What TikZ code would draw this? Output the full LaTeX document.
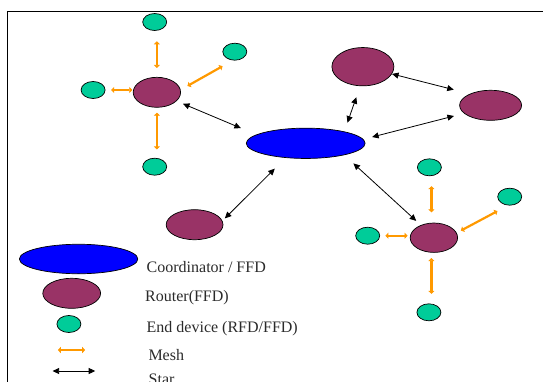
\documentclass[tikz,border=0pt]{standalone}
\usepackage{fontspec}
\setmainfont{Liberation Serif}
\usetikzlibrary{arrows.meta,shapes.geometric,calc}
\definecolor{coordblue}{HTML}{0000FF}
\definecolor{routerpurple}{HTML}{993366}
\definecolor{endgreen}{HTML}{00CC99}
\definecolor{meshorange}{HTML}{FF9900}
\definecolor{txtgray}{HTML}{2A2A2A}
\begin{document}
\begin{tikzpicture}[x=1pt,y=-1pt,
  coordnode/.style={ellipse,draw=black,line width=0.7pt,fill=coordblue,inner sep=0pt,minimum width=118.8pt,minimum height=30.3pt},
  routernode/.style={ellipse,draw=black,line width=0.7pt,fill=routerpurple,inner sep=0pt,minimum width=47.4pt,minimum height=30pt},
  endnode/.style={ellipse,draw=black,line width=0.7pt,fill=endgreen,inner sep=0pt,minimum width=24pt,minimum height=17pt},
  meshlink/.style={draw=meshorange,line width=2.2pt,arrows={Triangle[length=3pt,width=6pt]-Triangle[length=3pt,width=6pt]}},
  starlink/.style={draw=black,line width=0.8pt,arrows={Triangle[length=6.5pt,width=6pt]-Triangle[length=6.5pt,width=6pt]}},
  lbl/.style={anchor=base west,inner sep=0pt,font=\fontsize{16}{19}\selectfont,text=txtgray}]
\useasboundingbox (0,0) rectangle (543,381);
\clip (0,0) rectangle (543,381);
% frame
\draw[line width=0.9pt] (7.5,400) -- (7.5,11.3) -- (560,11.3);

% coordinator
\node[coordnode] (co) at (305.7,143.3) {};
% top-left cluster
\node[routernode] (r1) at (156.9,92.3) {};
\node[endnode] (e1t) at (154.7,22) {};
\node[endnode] (e1r) at (234.8,51.7) {};
\node[endnode] (e1l) at (93.1,90) {};
\node[endnode] (e1b) at (154.7,166.7) {};
% other routers
\node[routernode,minimum width=62pt,minimum height=38.3pt] (r2) at (362.9,66.7) {};
\node[routernode,minimum width=62pt,minimum height=30pt] (r3) at (490.6,105.3) {};
\node[routernode,minimum width=56.8pt,minimum height=30pt] (r4) at (194.6,224.7) {};
\node[routernode,minimum width=47.4pt,minimum height=29.4pt] (r5) at (433.9,237.7) {};
% bottom-right cluster
\node[endnode] (e5t) at (429.4,167.3) {};
\node[endnode] (e5r) at (509.7,196.7) {};
\node[endnode] (e5l) at (367.7,235.7) {};
\node[endnode] (e5b) at (428.9,312.3) {};

% star links
\draw[starlink,shorten <=6.9pt,shorten >=16.7pt] (r1.-24.4) -- (co.170.1);
\draw[starlink,shorten <=9.4pt,shorten >=11.7pt] (co.17.6) -- (r2.-98.4);
\draw[starlink,shorten >=16.6pt] (r2.-14.9) -- (r3.151.2);
\draw[starlink,shorten <=9pt,shorten >=10.4pt] (co.4.5) -- (r3.197.5);
\draw[starlink,shorten <=15.25pt,shorten >=3.4pt] (co.-144.9) -- (r4.8.3);
\draw[starlink,shorten <=12.25pt,shorten >=6.2pt] (co.-17.5) -- (r5.136.9);

% mesh links, top-left cluster
\draw[meshlink,shorten <=9pt,shorten >=10.4pt] (r1.north) -- (r1.north |- e1t.south);
\draw[meshlink,shorten <=5pt,shorten >=8.4pt] (r1.south) -- (r1.south |- e1b.north);
\draw[meshlink,shorten <=5.7pt,shorten >=0.6pt] (e1l.east) -- (e1l.east -| r1.west);
\draw[meshlink,shorten <=7.8pt,shorten >=11.75pt] (r1.6.8) -- (e1r.-103.3);
% mesh links, bottom-right cluster
\draw[meshlink,shorten <=10.3pt,shorten >=10pt] ($(r5.north)+(-2.5,0)$) -- ($(r5.north |- e5t.south)+(-2.5,0)$);
\draw[meshlink,shorten <=5.3pt,shorten >=9.6pt] ($(r5.south)+(-2.5,0)$) -- ($(r5.south |- e5b.north)+(-2.5,0)$);
\draw[meshlink,shorten <=5.3pt,shorten >=2.3pt] (e5l.east) -- (e5l.east -| r5.west);
\draw[meshlink,shorten <=4.75pt,shorten >=11.9pt] (r5.12) -- (e5r.-101);

% legend
\node[coordnode,minimum width=118.4pt,minimum height=29.5pt] (lco) at (78.6,259) {};
\node[routernode,minimum width=57.8pt,minimum height=30pt] (lr) at (71.7,293.3) {};
\node[endnode] (led) at (68.9,324) {};
\coordinate (m1) at (57.8,350);
\coordinate (m2) at (85.2,350);
\draw[meshlink] (m1) -- (m2);
\coordinate (s1) at (52.6,371);
\coordinate (s2) at (95.2,371);
\draw[starlink] (s1) -- (s2);

\node[lbl] (t1) at (146.5,272.5) {Coordinator / FFD};
\node[lbl] (t2) at (145,301.7) {Router(FFD)};
\node[lbl] (t3) at (146.5,332.5) {End device (RFD/FFD)};
\node[lbl] (t4) at (148.3,360.5) {Mesh};
\node[lbl] (t5) at (148.5,384.5) {Star};
\end{tikzpicture}
\end{document}
